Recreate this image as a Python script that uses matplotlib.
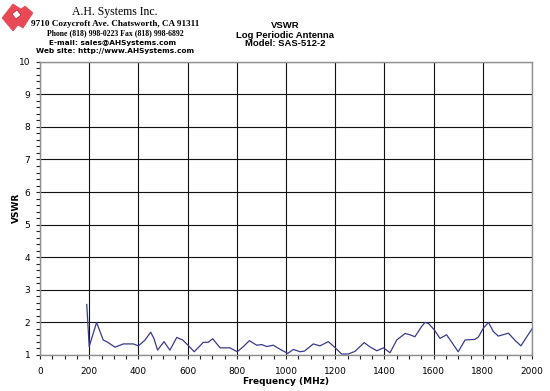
import matplotlib
matplotlib.use("Agg")
import matplotlib.pyplot as plt
from matplotlib.patches import Polygon
from matplotlib.ticker import MultipleLocator

freq_mhz = [190, 192, 200, 230, 257, 271, 305, 339, 379, 400, 427, 450, 463, 478,
            504, 528, 556, 580, 603, 627, 664, 684, 702, 732, 772, 802, 827, 851,
            881, 901, 922, 948, 982, 1007, 1030, 1057, 1075, 1111, 1138, 1172,
            1199, 1226, 1253, 1280, 1318, 1341, 1369, 1396, 1423, 1450, 1484,
            1504, 1524, 1551, 1565, 1579, 1603, 1626, 1653, 1673, 1700, 1728,
            1768, 1782, 1802, 1823, 1843, 1863, 1904, 1931, 1955, 1978, 2000]
vswr = [2.55, 2.30, 1.26, 2.00, 1.46, 1.41, 1.24, 1.34, 1.34, 1.28, 1.46, 1.70, 1.51,
        1.15, 1.41, 1.15, 1.54, 1.46, 1.29, 1.10, 1.39, 1.39, 1.50, 1.22, 1.22,
        1.10, 1.26, 1.44, 1.30, 1.32, 1.26, 1.30, 1.15, 1.05, 1.17, 1.10, 1.12,
        1.34, 1.28, 1.41, 1.23, 1.03, 1.03, 1.11, 1.38, 1.25, 1.13, 1.22, 1.07,
        1.46, 1.66, 1.62, 1.56, 1.87, 2.00, 1.97, 1.77, 1.51, 1.62, 1.40, 1.10,
        1.46, 1.48, 1.55, 1.82, 2.00, 1.72, 1.58, 1.67, 1.45, 1.28, 1.55, 1.80]

x_ticks = [0, 200, 400, 600, 800, 1000, 1200, 1400, 1600, 1800, 2000]
y_ticks = [1, 2, 3, 4, 5, 6, 7, 8, 9, 10]

W, H = 550, 391
fig = plt.figure(figsize=(5.5, 3.91), dpi=100)
ax = fig.add_axes([40/W, 1-355/H, (532-40)/W, (355-61.7)/H])

ax.plot(freq_mhz, vswr, color="#3a3a8c", lw=0.9)
ax.set_xlim(0, 2000)
ax.set_ylim(1, 10)
ax.set_xticks(x_ticks)
ax.set_yticks(y_ticks)
ax.xaxis.set_minor_locator(MultipleLocator(50))
ax.yaxis.set_minor_locator(MultipleLocator(0.2))
ax.grid(True, which="major", color="#111111", lw=0.8)
for s in ax.spines.values():
    s.set_color("#909090")
    s.set_linewidth(1.0)
ax.tick_params(which="both", direction="out", length=3, width=0.8, color="#222222",
               labelsize=6.5, pad=4)
ax.tick_params(axis="x", pad=6)
ax.set_xlabel("Frequency (MHz)", fontsize=6.5, fontweight="bold", va="center")
ax.xaxis.set_label_coords(0.5, (355-381)/293.3)
ax.set_ylabel("VSWR", fontsize=6.5, fontweight="bold", va="center")
ax.yaxis.set_label_coords((16-40)/492, 0.5)

# Header text
cx = 115/W
fig.text(cx, 1-12/H, "A.H. Systems Inc.", family="Liberation Serif",
         fontsize=8.5, ha="center", va="center")
fig.text(cx, 1-23.5/H, "9710 Cozycroft Ave. Chatsworth, CA 91311",
         family="Liberation Serif", fontweight="bold", fontsize=6.6, ha="center", va="center")
fig.text(cx, 1-33/H, "Phone (818) 998-0223 Fax (818) 998-6892",
         family="Liberation Serif", fontweight="bold", fontsize=5.6, ha="center", va="center")
fig.text(cx - 2/W, 1-42.5/H, "E-mail: sales@AHSystems.com",
         fontweight="bold", fontsize=5.3, ha="center", va="center")
fig.text(cx, 1-51.5/H, "Web site: http://www.AHSystems.com",
         fontweight="bold", fontsize=5.3, ha="center", va="center")

tfam = ["Liberation Sans", "DejaVu Sans"]
fig.text(285/W, 1-26/H, "VSWR", family=tfam, fontsize=6.8, ha="center", va="center", fontweight="bold")
fig.text(285/W, 1-35/H, "Log Periodic Antenna", family=tfam, fontsize=6.8, ha="center", va="center", fontweight="bold")
fig.text(285/W, 1-44/H, "Model: SAS-512-2", family=tfam, fontsize=6.8, ha="center", va="center", fontweight="bold")

# Logo
pts = [(2, 18), (13, 4), (21, 9), (25, 6), (33, 13), (23, 28), (18, 25), (13, 31)]
logo = Polygon([(x/W, 1-y/H) for x, y in pts], closed=True, transform=fig.transFigure,
               facecolor="#e84a55", edgecolor="#e84a55", hatch="//////", lw=0.5)
fig.patches.append(logo)
fig.patches.append(Polygon([(x/W, 1-y/H) for x, y in [(12, 14), (17, 10), (21, 15), (16, 19)]],
                           closed=True, transform=fig.transFigure, facecolor="white",
                           edgecolor="#c02030", lw=0.5))

fig.savefig("out.png", dpi=100)
